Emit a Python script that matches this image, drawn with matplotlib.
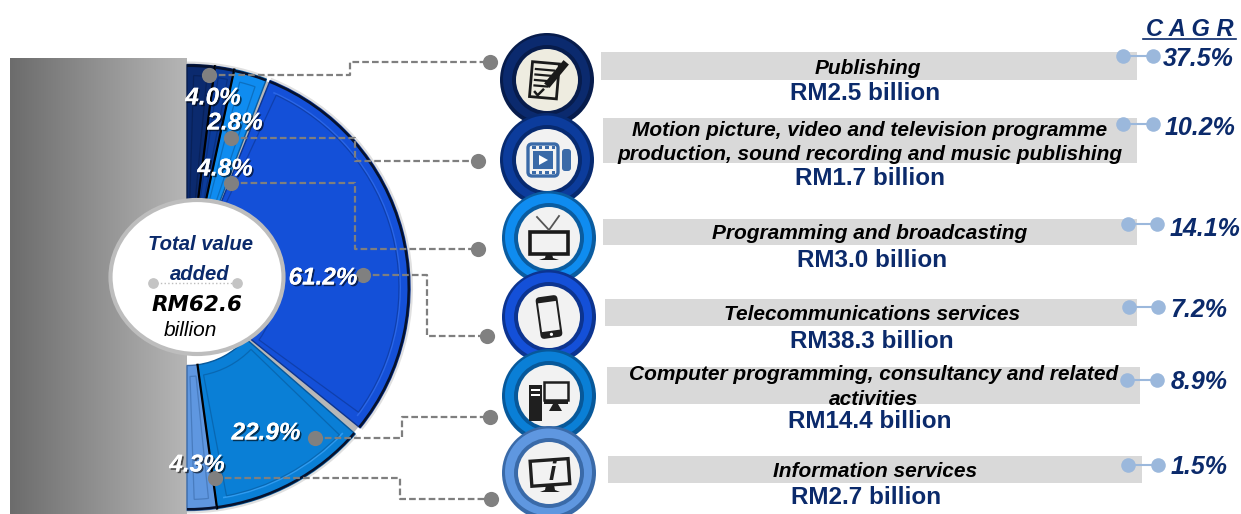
import matplotlib
matplotlib.use('Agg')
import matplotlib.pyplot as plt
import matplotlib.patheffects as pe
from matplotlib.patches import Circle, Ellipse, Wedge, Rectangle, FancyBboxPatch, Polygon
from matplotlib.transforms import Affine2D
import numpy as np

plt.rcParams['font.family'] = ['Liberation Sans', 'DejaVu Sans']

# data
categories = [['Publishing'],
              ['Motion picture, video and television programme',
               'production, sound recording and music publishing'],
              ['Programming and broadcasting'],
              ['Telecommunications services'],
              ['Computer programming, consultancy and related', 'activities'],
              ['Information services']]
shares = [4.0, 2.8, 4.8, 61.2, 22.9, 4.3]
value_added = [2.5, 1.7, 3.0, 38.3, 14.4, 2.7]
cagr = [37.5, 10.2, 14.1, 7.2, 8.9, 1.5]
total = 62.6

NAVY = '#0b2a6b'
GREY_LINE = '#7f7f7f'
DOT_BLUE = '#9bb8dc'
slice_cols = ['#0b2a6e', '#0c3c9c', '#0f8cf0', '#1450d8', '#0a7fd6', '#5f97e0']
slice_dark = ['#071c4c', '#072a70', '#0a5ca0', '#0c3490', '#07589a', '#3a6aa8']

# layout, in pixels of the 1241x514 picture
CX, CY, R, R_IN = 187, 287.5, 223, 78
ring_xy = [(547, 80), (547, 160), (549, 238), (549, 317), (549, 396), (549, 473)]
bars = [(601, 1137, 52, 80), (603, 1137, 118, 163), (603, 1137, 219, 245),
        (605, 1137, 299, 326), (607, 1140, 367, 404), (608, 1142, 456, 483)]
name_pos = [(868, [67]), (870, [129, 153]), (870, [232]), (872, [313]), (874, [373, 398]), (875, [470])]
value_pos = [(865, 92), (870, 177), (872, 259), (872, 340), (870, 420), (866, 496)]
leaders = [[(209, 75), (350, 75), (350, 62), (490, 62)],
           [(231, 138), (355, 138), (355, 161), (478, 161)],
           [(231, 183), (355, 183), (355, 249), (478, 249)],
           [(363, 275), (427, 275), (427, 336), (487, 336)],
           [(315, 438), (402, 438), (402, 417), (490, 417)],
           [(215, 478), (400, 478), (400, 499), (491, 499)]]
share_pos = [(213, 98), (235, 123), (225, 169), (323, 278), (266, 433), (197, 465)]
cagr_dots = [(1123, 1153, 56), (1123, 1153, 124), (1128, 1157, 224),
             (1129, 1158, 307), (1127, 1157, 380), (1128, 1158, 465)]
cagr_pos = [(1198, 59), (1200, 128), (1205, 229), (1199, 310), (1199, 382), (1199, 467)]


def draw_slices(ax):
    start = -90
    for i, s in enumerate(shares):
        sweep = s * 1.8
        t1, t2 = start, start + sweep
        if i == 3:
            # the big slice has a grey gap either side
            ax.add_patch(Wedge((CX, CY), R - 2, t1, t2, width=R - 2 - R_IN, fc='#b8b8b8', ec='none', zorder=3))
            t1, t2 = t1 + 1, t2 - 2
        # soft halo
        ax.add_patch(Wedge((CX, CY), R + 3, t1, t2, width=6, fc='#000000', alpha=0.12, ec='none', zorder=2))
        ax.add_patch(Wedge((CX, CY), R, t1, t2, width=R - R_IN, fc=slice_cols[i], ec=slice_dark[i], lw=1.0, zorder=4))
        # outer rim
        ax.add_patch(Wedge((CX, CY), R, t1, t2, width=2.5, fc='#06122e', ec='none', zorder=5))
        # highlight arc on the two big slices
        if i in (3, 4):
            ax.add_patch(Wedge((CX, CY), R - 9, t1 + 2, t2 - 2, width=1.6, fc='#2f9bf0' if i == 4 else '#2a66e8', ec='none', zorder=5))
        # bevel line inside the slice
        inset = min(3, sweep * 0.25)
        ax.add_patch(Wedge((CX, CY), R - 11, t1 + inset, t2 - inset, width=R - R_IN - 22,
                           fc='none', ec=slice_dark[i], lw=0.9, alpha=0.6, zorder=5))
        # black line between the small slices
        if i in (0, 1, 4):
            a = np.deg2rad(t2)
            ax.plot([CX + R_IN*np.cos(a), CX + R*np.cos(a)], [CY + R_IN*np.sin(a), CY + R*np.sin(a)],
                    c='black', lw=1.6, zorder=5)
        start += sweep


def icon_doc(ax, x, y):
    tr = Affine2D().rotate_deg_around(x, y, 5) + ax.transData
    ax.add_patch(Rectangle((x-16, y-17), 27, 35, fc='none', ec='#1a1a1a', lw=2, transform=tr, zorder=12))
    for k, w in enumerate([18, 20, 16, 13]):
        ax.plot([x-12, x-12+w], [y-10+k*5.5]*2, c='#1a1a1a', lw=1.6, transform=tr, zorder=12)
    ax.plot([x-11, x-8, x-3], [y+13, y+16, y+10], c='#1a1a1a', lw=1.8, transform=tr, zorder=12)
    ax.plot([x+2, x+17], [y+3, y-15], c='#1a1a1a', lw=5, zorder=12)


def icon_camera(ax, x, y):
    col = '#3a6aa8'
    ax.add_patch(FancyBboxPatch((x-19, y-16), 30, 32, boxstyle='round,pad=0,rounding_size=4', fc='#f2f2f2', ec=col, lw=2.4, zorder=12))
    ax.add_patch(Rectangle((x-14, y-9), 20, 18, fc=col, ec='none', zorder=13))
    ax.add_patch(Polygon([(x-8, y-5), (x-8, y+5), (x+1, y)], fc='white', ec='none', zorder=14))
    for k in range(4):
        ax.add_patch(Rectangle((x-15+k*6.5, y-14), 3.5, 3, fc=col, ec='none', zorder=13))
        ax.add_patch(Rectangle((x-15+k*6.5, y+11), 3.5, 3, fc=col, ec='none', zorder=13))
    ax.add_patch(FancyBboxPatch((x+15, y-11), 9, 22, boxstyle='round,pad=0,rounding_size=3', fc=col, ec='none', zorder=12))


def icon_tv(ax, x, y):
    ax.add_patch(Rectangle((x-19, y-6), 38, 22, fc='#f2f2f2', ec='#1a1a1a', lw=2.6, zorder=12))
    ax.plot([x-12, x, x+10], [y-21, y-8, y-22], c='#555555', lw=1.3, zorder=12)
    ax.add_patch(Polygon([(x-3, y+16), (x+3, y+16), (x+4, y+20), (x+10, y+22), (x-10, y+22), (x-4, y+20)], fc='#1a1a1a', ec='none', zorder=12))


def icon_phone(ax, x, y):
    tr = Affine2D().rotate_deg_around(x, y, -8) + ax.transData
    ax.add_patch(FancyBboxPatch((x-11, y-21), 22, 42, boxstyle='round,pad=0,rounding_size=4', fc='#1f1f1f', ec='none', transform=tr, zorder=12))
    ax.add_patch(Rectangle((x-9, y-15), 18, 29, fc='#f2f2f2', ec='none', transform=tr, zorder=13))
    ax.add_patch(Circle((x, y+17.5), 1.6, fc='white', ec='none', transform=tr, zorder=13))


def icon_pc(ax, x, y):
    ax.add_patch(Rectangle((x-20, y-11), 13, 36, fc='#1f1f1f', ec='none', zorder=12))
    ax.add_patch(Rectangle((x-18, y-7), 9, 2, fc='white', ec='none', zorder=13))
    ax.add_patch(Rectangle((x-18, y-2), 9, 2, fc='white', ec='none', zorder=13))
    ax.add_patch(Rectangle((x-5, y-14), 24, 18, fc='#f2f2f2', ec='#1f1f1f', lw=1.8, zorder=14))
    ax.add_patch(Rectangle((x-5, y+4), 24, 4, fc='#1f1f1f', ec='none', zorder=14))
    ax.add_patch(Polygon([(x+4, y+8), (x+9, y+8), (x+13, y+15), (x, y+15)], fc='#1f1f1f', ec='none', zorder=14))


def icon_info(ax, x, y):
    tr = Affine2D().rotate_deg_around(x, y, -4) + ax.transData
    ax.add_patch(Rectangle((x-18, y-13), 38, 25, fc='#f2f2f2', ec='#1f1f1f', lw=2.4, transform=tr, zorder=12))
    ax.add_patch(Polygon([(x-3, y+12), (x+5, y+12), (x+6, y+17), (x+11, y+19), (x-9, y+19), (x-4, y+17)], fc='#1f1f1f', ec='none', zorder=12))
    ax.text(x+3, y, 'i', fontsize=19, fontweight='bold', fontstyle='italic', color='#1f1f1f', ha='center', va='center', zorder=14)


icons = [icon_doc, icon_camera, icon_tv, icon_phone, icon_pc, icon_info]


def draw_ring(ax, i, x, y):
    zo = 10
    ax.add_patch(Circle((x, y), 47, fc=slice_dark[i], ec='none', zorder=zo))
    ax.add_patch(Circle((x - 0.5, y - 1), 43.5, fc=slice_cols[i], ec='none', zorder=zo))
    ax.add_patch(Circle((x, y), 35, fc=slice_dark[i], ec='none', zorder=zo))
    ax.add_patch(Circle((x, y), 31, fc='#eeece0' if i == 0 else '#f2f2f2', ec='none', zorder=zo))
    icons[i](ax, x, y)


def main():
    fig = plt.figure(figsize=(12.41, 5.14), dpi=100)
    ax = fig.add_axes([0, 0, 1, 1])

    # grey panel behind the half donut
    ramp = np.linspace(0, 1, 256).reshape(1, -1)
    ax.imshow(ramp, extent=(10, 187, 514, 58), cmap=matplotlib.colors.LinearSegmentedColormap.from_list('g', ['#6c6c6c', '#b6b6b6']),
              aspect='auto', zorder=1)

    draw_slices(ax)
    # centre disc
    ax.add_patch(Ellipse((197, 277), 173, 154, fc='white', ec='#bdbdbd', lw=3, zorder=7))
    ax.text(200, 244, 'Total value', fontsize=14.6, fontweight='bold', fontstyle='italic', color=NAVY,
            ha='center', va='center', zorder=8)
    ax.text(200, 274, 'added', fontsize=14.6, fontweight='bold', fontstyle='italic', color=NAVY,
            ha='center', va='center', zorder=8)
    ax.plot([153, 237], [283, 283], ls=':', c='#bdbdbd', lw=1, zorder=8)
    ax.scatter([153, 237], [283, 283], s=45, c='#c4c4c4', zorder=8)
    ax.text(197, 305, f'RM{total}', fontsize=15.5, fontweight='bold', fontstyle='italic', color='black',
            ha='center', va='center', zorder=8, family=['DejaVu Sans'])
    ax.text(190, 331, 'billion', fontsize=15, fontstyle='italic', color='black', ha='center', va='center', zorder=8)

    # dashed leaders
    for pts in leaders:
        xs, ys = zip(*pts)
        ax.plot(xs, ys, ls=(0, (3, 1.4)), c=GREY_LINE, lw=1.6, zorder=6)
        ax.scatter([xs[0], xs[-1]], [ys[0], ys[-1]], s=120, c='#808080', linewidths=0, zorder=6.5)

    shadow = [pe.withSimplePatchShadow(offset=(1.2, -1.2), shadow_rgbFace='black', alpha=0.6), pe.Normal()]
    for (x, y), s in zip(share_pos, shares):
        ax.text(x, y, f'{s}%', fontsize=17.5, fontweight='bold', fontstyle='italic', color='white',
                ha='center', va='center', zorder=9, path_effects=shadow)

    # grey bands and labels
    for (x0, x1, y0, y1) in bars:
        ax.add_patch(Rectangle((x0, y0), x1 - x0, y1 - y0, fc='#d9d9d9', ec='none', zorder=1))
    for i, (x, ys) in enumerate(name_pos):
        for line, y in zip(categories[i], ys):
            ax.text(x, y + 1.5, line, fontsize=15, fontweight='bold', fontstyle='italic', color='black',
                    ha='center', va='center', zorder=3)
    for (x, y), v in zip(value_pos, value_added):
        ax.text(x, y + 1.5, f'RM{v:.1f} billion', fontsize=17.5, fontweight='bold', color=NAVY,
                ha='center', va='center', zorder=3)

    for i, (x, y) in enumerate(ring_xy):
        draw_ring(ax, i, x, y)

    # CAGR column
    ax.text(1190, 29, 'C A G R', fontsize=17, fontweight='bold', fontstyle='italic', color=NAVY,
            ha='center', va='center')
    ax.plot([1143, 1236], [39, 39], c=NAVY, lw=1.2)
    for (x0, x1, y) in cagr_dots:
        ax.plot([x0, x1], [y, y], c=DOT_BLUE, lw=1.5, zorder=4)
        ax.scatter([x0, x1], [y, y], s=110, c=DOT_BLUE, linewidths=0, zorder=4)
    for (x, y), c in zip(cagr_pos, cagr):
        ax.text(x, y, f'{c}%', fontsize=18, fontweight='bold', fontstyle='italic', color=NAVY,
                ha='center', va='center', zorder=5)

    ax.set_xlim(0, 1241)
    ax.set_ylim(514, 0)
    ax.axis('off')
    fig.savefig('out.png', dpi=100)


if __name__ == '__main__':
    main()
